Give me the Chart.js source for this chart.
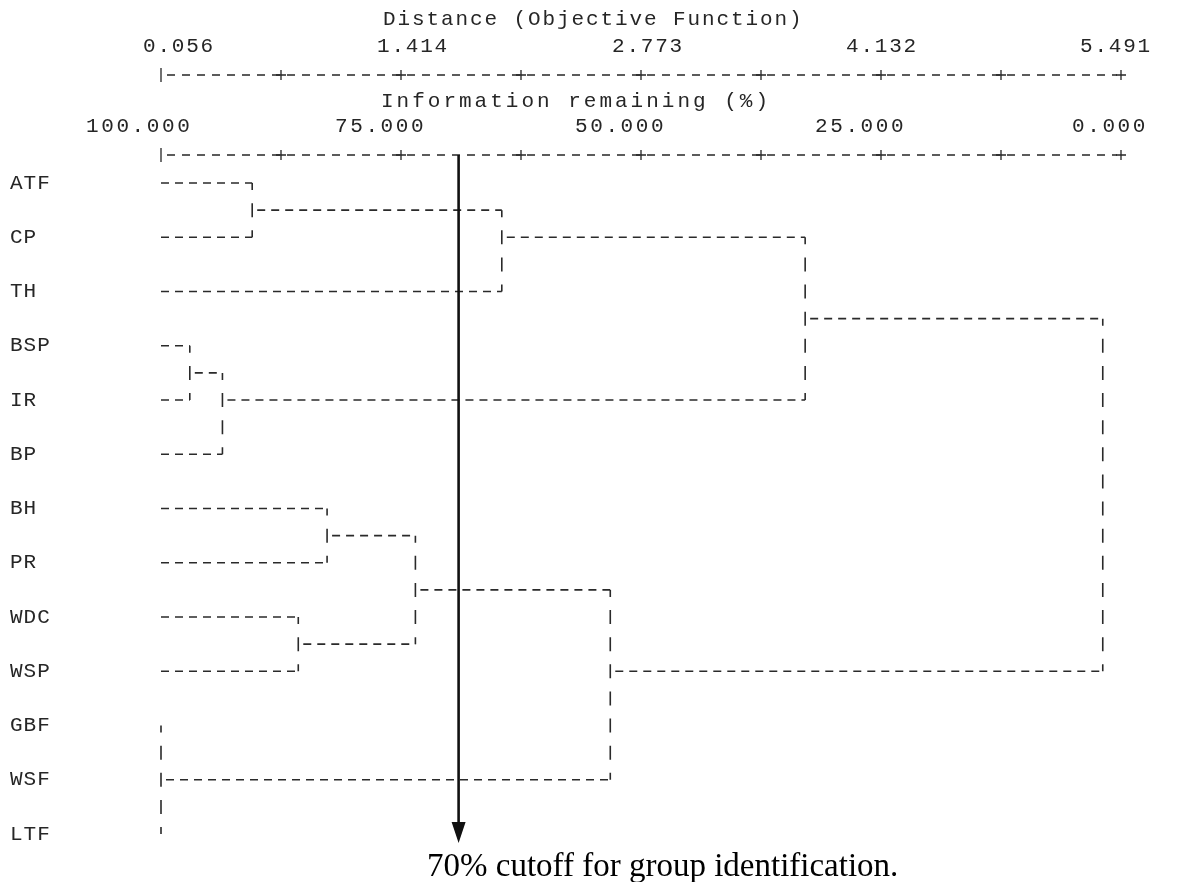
<!DOCTYPE html>
<html>
<head>
<meta charset="utf-8">
<script src="https://cdn.jsdelivr.net/npm/chart.js@4.4.1/dist/chart.umd.min.js"></script>
<style>
  body { margin: 0; background: #fff; }
  #wrap { width: 1183px; height: 882px; }
</style>
</head>
<body>
<div id="wrap"><canvas id="dendro" width="1183" height="882"></canvas></div>
<script>
// taxa as printed down the page
const taxa = ['ATF', 'CP', 'TH', 'BSP', 'IR', 'BP', 'BH', 'PR', 'WDC', 'WSP', 'GBF', 'WSF', 'LTF'];
// each fusion joins these nodes (0-12 = taxa, 13 and up = earlier fusions in this list)
const fuseNodes = [[0, 1], [13, 2], [3, 4], [15, 5], [14, 16], [6, 7], [8, 9], [18, 19], [10, 11, 12], [20, 21], [17, 22]];
// information remaining (%) where each fusion happens
const fuseLevel = [90.5, 64.5, 97.0, 93.6, 32.9, 82.7, 85.7, 73.5, 100, 53.2, 1.9];
// half-row the fused branch leaves from (taxon i sits on half-row 2*i)
const fuseRow = [1, 2, 7, 8, 5, 13, 17, 15, 22, 18, 11];
// axis labels
const infoLabels = ['100.000', '75.000', '50.000', '25.000', '0.000'];
const distLabels = ['0.056', '1.414', '2.773', '4.132', '5.491'];
const cutoff = 69; // where the arrow is drawn

const ink = '#262626';

// turn fusions into line segments
const nodeRow = taxa.map((t, i) => i * 2);
const nodeLevel = taxa.map(() => 100);
const across = [];
const down = [];
fuseNodes.forEach((kids, k) => {
  const lv = fuseLevel[k];
  const rows = kids.map(c => nodeRow[c]);
  kids.forEach(c => {
    if (nodeLevel[c] !== lv) {
      across.push({leaf: c < taxa.length, seg: [{x: nodeLevel[c], y: nodeRow[c]}, {x: lv, y: nodeRow[c]}]});
    }
  });
  down.push([{x: lv, y: Math.min(...rows)}, {x: lv, y: Math.max(...rows)}]);
  nodeRow.push(fuseRow[k]);
  nodeLevel.push(lv);
});

const lineStyle = {showLine: true, borderColor: '#2a2a2a', borderWidth: 1.6, pointRadius: 0, clip: false};
// branches leaving a '|' start after a small gap, as in the printout
const datasets = across.map(a => Object.assign({data: a.seg, borderDash: [8, 6], borderDashOffset: a.leaf ? 0 : 9}, lineStyle))
  .concat(down.map(seg => Object.assign({data: seg, borderDash: [14, 13.125], borderDashOffset: 7}, lineStyle)));

// draw monospace text char by char, like the printout
function mono(ctx, str, x0, yy, pitch) {
  for (let i = 0; i < str.length; i++) ctx.fillText(str[i], x0 + i * pitch, yy);
}

const asciiPlugin = {
  id: 'ascii',
  afterDraw(chart) {
    const {ctx, scales: {x, y}} = chart;
    const xl = x.getPixelForValue(100), xr = x.getPixelForValue(0);
    ctx.save();
    ctx.fillStyle = ink;
    ctx.strokeStyle = ink;
    ctx.textBaseline = 'middle';
    ctx.textAlign = 'left';
    ctx.font = '21px "Liberation Mono", monospace';

    mono(ctx, 'Distance (Objective Function)', 383, 19, 14.5);
    const distX = [143, 377, 612, 846, 1080];
    distLabels.forEach((t, i) => mono(ctx, t, distX[i], 46, 14.4));
    mono(ctx, 'Information remaining (%)', 381, 101, 15.6);
    const infoX = [86, 335, 575, 815, 1072];
    infoLabels.forEach((t, i) => mono(ctx, t, infoX[i], 126, 15.2));

    // the two ruled axis lines
    [75, 155].forEach(yy => {
      ctx.lineWidth = 1.3;
      ctx.setLineDash([8, 7]);
      ctx.beginPath();
      ctx.moveTo(xl + 6, yy);
      ctx.lineTo(xr - 4, yy);
      ctx.stroke();
      ctx.setLineDash([]);
      ctx.beginPath();
      ctx.moveTo(xl, yy - 7);
      ctx.lineTo(xl, yy + 7);
      for (let v = 87.5; v >= 0; v -= 12.5) {
        const px = x.getPixelForValue(v);
        ctx.moveTo(px - 5, yy);
        ctx.lineTo(px + 5, yy);
        ctx.moveTo(px, yy - 5);
        ctx.lineTo(px, yy + 5);
      }
      ctx.stroke();
    });

    // taxon names
    taxa.forEach((t, i) => mono(ctx, t, 10, y.getPixelForValue(i * 2), 13.6));

    // cutoff arrow
    const ax = x.getPixelForValue(cutoff);
    ctx.fillStyle = '#111';
    ctx.strokeStyle = '#111';
    ctx.lineWidth = 2.6;
    ctx.beginPath();
    ctx.moveTo(ax, 155);
    ctx.lineTo(ax, 826);
    ctx.stroke();
    ctx.beginPath();
    ctx.moveTo(ax - 7, 822);
    ctx.lineTo(ax + 7, 822);
    ctx.lineTo(ax, 843);
    ctx.closePath();
    ctx.fill();

    ctx.fillStyle = '#000';
    ctx.textBaseline = 'alphabetic';
    ctx.font = '33px "Liberation Serif", "Times New Roman", serif';
    ctx.fillText('70% cutoff for group identification.', 427, 876);
    ctx.restore();
  }
};

new Chart(document.getElementById('dendro').getContext('2d'), {
  type: 'scatter',
  data: {datasets: datasets},
  options: {
    responsive: false,
    animation: false,
    layout: {padding: {top: 183, bottom: 48, left: 161, right: 62}},
    scales: {
      x: {type: 'linear', min: 0, max: 100, reverse: true, display: false},
      y: {type: 'linear', min: 0, max: 24, reverse: true, display: false}
    },
    plugins: {legend: {display: false}, tooltip: {enabled: false}}
  },
  plugins: [asciiPlugin]
});
</script>
</body>
</html>
